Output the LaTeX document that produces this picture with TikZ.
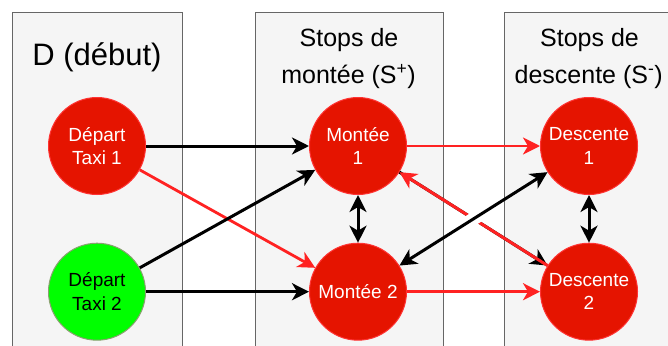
\documentclass[tikz,border=0pt]{standalone}
\usepackage{fontspec}
\setmainfont{Liberation Sans}
\usetikzlibrary{arrows.meta,calc}
\definecolor{panelfill}{HTML}{F5F5F5}
\definecolor{panelline}{HTML}{666666}
\definecolor{nodered}{HTML}{E51400}
\definecolor{nodeedge}{HTML}{FF3333}
\definecolor{nodegreen}{HTML}{00FF00}
\definecolor{greenedge}{HTML}{8AA070}
\definecolor{linered}{HTML}{FF2222}
\begin{document}
\begin{tikzpicture}[x=1pt,y=-1pt,
  panel/.style={draw=panelline,fill=panelfill,line width=1pt},
  bigtitle/.style={font=\fontsize{31}{37}\selectfont,anchor=base,inner sep=0pt},
  subtitle/.style={font=\fontsize{25}{30}\selectfont,anchor=base,inner sep=0pt},
  stopnode/.style={circle,minimum size=97pt,inner sep=0pt,line width=1pt,align=center,
    font=\fontsize{19}{23.5}\selectfont},
  rednode/.style={stopnode,fill=nodered,draw=nodeedge,text=white},
  greennode/.style={stopnode,fill=nodegreen,draw=greenedge,text=black},
  blk/.style={draw=black,line width=3pt,-{Stealth[length=17pt,width=17pt,inset=5pt]}},
  blkboth/.style={draw=black,line width=3pt,{Stealth[length=17pt,width=17pt,inset=5pt]}-{Stealth[length=17pt,width=17pt,inset=5pt]}},
  rd/.style={draw=linered,line width=2.8pt,-{Stealth[length=17pt,width=17pt,inset=5pt]}},
]
\useasboundingbox (0,0) rectangle (668,345);
% panels
\draw[panel] (12,12.5) rectangle (182,360);
\draw[panel] (255,12.5) rectangle (443,360);
\draw[panel] (504,12.5) rectangle (690,360);
% titles
\node[bigtitle] (tD) at (97,65.7) {D (début)};
\node[subtitle] (tS1a) at (349,46.7) {Stops de};
\node[subtitle] (tS1b) at (348.5,83.3) {montée (S\textsuperscript{+})};
\node[subtitle] (tS2a) at (589.5,46.7) {Stops de};
\node[subtitle] (tS2b) at (588.7,83.3) {descente (S\textsuperscript{-})};
% nodes
\node[rednode] (D1) at (97,146) {Départ\\Taxi 1};
\node[greennode] (D2) at (97,291.7) {Départ\\Taxi 2};
\node[rednode] (M1) at (358,146) {Montée\\1};
\node[rednode] (M2) at (358,291.7) {Montée 2};
\node[rednode] (S1) at (589,146) {Descente\\1};
\node[rednode] (S2) at (589,291.7) {Descente\\2};
% edges
\draw[rd] (D1) -- (M2);
\draw[blk] (D1) -- (M1);
\draw[blk] (D2) -- (M1);
\draw[blk] (D2) -- (M2);
\draw[blkboth] (M1) -- (M2);
\draw[rd] (M1) -- (S1);
\draw[rd] (M2) -- (S2);
\draw[blk] (M1) -- (S2);
\draw[rd,line width=3pt] (S2) -- (M1);
\draw[white,line width=13pt] ($(M2)!0.47!(S1)$) -- ($(M2)!0.53!(S1)$);
\draw[blkboth] (M2) -- (S1);
\draw[blkboth] (S1) -- (S2);
\end{tikzpicture}
\end{document}
